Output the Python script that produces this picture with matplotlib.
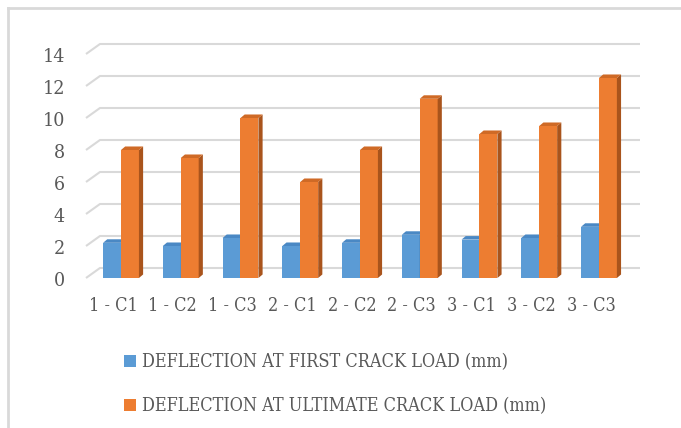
import matplotlib
matplotlib.use("Agg")
import matplotlib.pyplot as plt
from matplotlib.patches import Polygon, Patch
from matplotlib.lines import Line2D
import matplotlib.transforms as mtransforms
import numpy as np

categories = ["1 - C1", "1 - C2", "1 - C3", "2 - C1", "2 - C2", "2 - C3", "3 - C1", "3 - C2", "3 - C3"]
first_crack = [2.2, 2.0, 2.5, 2.0, 2.2, 2.7, 2.4, 2.5, 3.2]
ultimate_crack = [8.0, 7.5, 10.0, 6.0, 8.0, 11.2, 9.0, 9.5, 12.5]
series_names = ["DEFLECTION AT FIRST CRACK LOAD (mm)", "DEFLECTION AT ULTIMATE CRACK LOAD (mm)"]
yticks = [0, 2, 4, 6, 8, 10, 12, 14]

W, H = 681, 428
fig = plt.figure(figsize=(W / 100, H / 100), dpi=100)
TXT = "#595959"
FONT = "DejaVu Serif"
STRETCH = "condensed"
FS = 13

left_px, right_px, top_px, bot_px = 86, 640, 44, 278
ax = fig.add_axes([left_px / W, 1 - bot_px / H, (right_px - left_px) / W, (bot_px - top_px) / H])
ax.set_xlim(-0.586, 8.687)
ax.set_ylim(0, 14.625)
for s in ax.spines.values():
    s.set_visible(False)

x0, x1 = ax.get_xlim()
gx = 0.234
gy = 0.625
for v in yticks:
    ax.plot([x0, x0 + gx, x1], [v, v + gy, v + gy], color="#d9d9d9", lw=1.5, zorder=1,
            solid_capstyle="butt", clip_on=False)

x = np.arange(len(categories))
bw = 0.3
dx, dy = 0.07, 0.22
colors = [("#5b9bd5", "#3f76a8", "#4a88c4"), ("#ed7d31", "#a9541c", "#cf6a26")]
for k, (vals, (cf, cs, ct)) in enumerate(zip([first_crack, ultimate_crack], colors)):
    offs = -bw / 2 if k == 0 else bw / 2
    bars = ax.bar(x + offs, vals, width=bw, color=cf, zorder=3 + k, linewidth=0)
    for b in bars:
        bx0 = b.get_x()
        bx1 = bx0 + b.get_width()
        h = b.get_height()
        side = Polygon([(bx1, 0), (bx1 + dx, dy), (bx1 + dx, h + dy), (bx1, h)], closed=True,
                       facecolor=cs, edgecolor="none", zorder=3 + k)
        top = Polygon([(bx0, h), (bx0 + dx, h + dy), (bx1 + dx, h + dy), (bx1, h)], closed=True,
                      facecolor=ct, edgecolor="none", zorder=3 + k)
        ax.add_patch(side)
        ax.add_patch(top)

ax.set_yticks(yticks)
ax.set_yticklabels([str(v) for v in yticks], fontsize=FS + 1, color=TXT, family=FONT, fontstretch=STRETCH)
ax.tick_params(axis="y", length=0, pad=15)
for lab in ax.get_yticklabels():
    lab.set_verticalalignment("center")
    lab.set_transform(lab.get_transform() + mtransforms.ScaledTranslation(0, -3 / 100, fig.dpi_scale_trans))
ax.set_xticks(x)
ax.set_xticklabels(categories, fontsize=FS, color=TXT, family=FONT, fontstretch=STRETCH)
ax.tick_params(axis="x", length=0, pad=14)
for lab in ax.get_xticklabels():
    lab.set_transform(lab.get_transform() + mtransforms.ScaledTranslation(-8 / 100, 0, fig.dpi_scale_trans))

handles = [Patch(facecolor=colors[0][0], edgecolor="none"), Patch(facecolor=colors[1][0], edgecolor="none")]
leg = fig.legend(handles, series_names, loc="upper left", bbox_to_anchor=(108 / W, 1 - 337 / H),
                 frameon=False, prop={"family": FONT, "size": FS, "stretch": STRETCH}, labelcolor=TXT,
                 handlelength=0.65, handleheight=0.65, handletextpad=0.35, labelspacing=1.45)

fig.add_artist(Line2D([8 / W, 8 / W], [0, 1 - 8 / H], transform=fig.transFigure, color="#d9d9d9", lw=2))
fig.add_artist(Line2D([8 / W, 1], [1 - 8 / H, 1 - 8 / H], transform=fig.transFigure, color="#d9d9d9", lw=2))

fig.savefig("out.png", dpi=100)
